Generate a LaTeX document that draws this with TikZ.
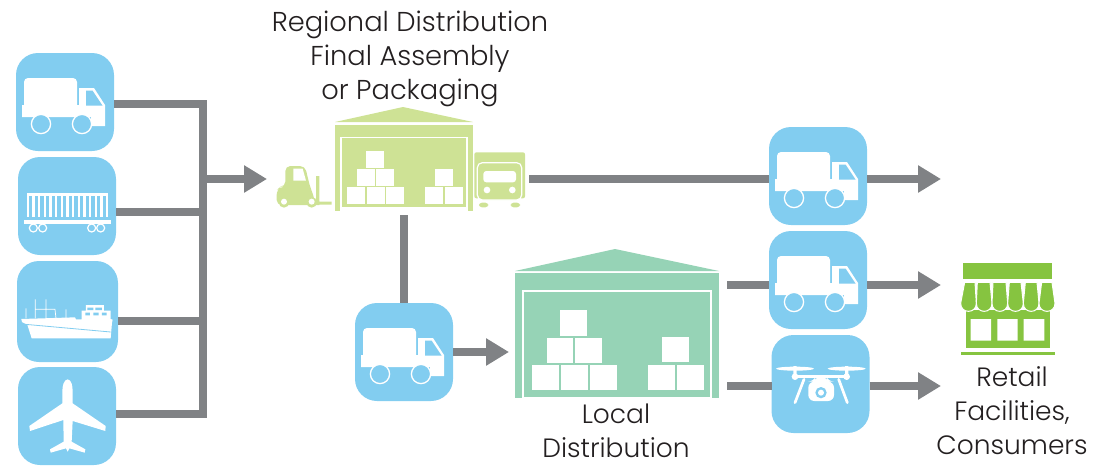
\documentclass[tikz,border=0pt]{standalone}
\usepackage{fontspec}
\setmainfont{Poppins Light}
\usetikzlibrary{arrows.meta}
\definecolor{tileblue}{HTML}{82CDF0}
\definecolor{pipegray}{HTML}{808285}
\definecolor{leaf}{HTML}{CEE295}
\definecolor{mint}{HTML}{96D3B6}
\definecolor{shop}{HTML}{86C440}
\definecolor{ink}{HTML}{231F20}
\tikzset{
  tile/.style={fill=tileblue,rounded corners=22pt,minimum width=98pt,minimum height=98pt,inner sep=0pt,outer sep=0pt},
  hall/.style={inner sep=0pt,outer sep=0pt,rectangle},
  pipe/.style={draw=pipegray,line width=8pt},
  flow/.style={pipe,-{Triangle[length=23pt,width=26pt]}},
  label/.style={text=ink,align=center,font=\fontsize{26.5}{34}\selectfont,inner sep=0pt},
  zoomed/.style={x=0.33333pt,y=-0.33333pt},
  truck/.pic={
    \fill[white,rounded corners=4pt] (8,58) -- (8,25) -- (61,25) -- (61,58) -- cycle;
    \fill[white] (6,52) -- (63,52) -- (63,35) -- (78,35) -- (89,52) -- (89,73) -- (75,73) -- (75,64) -- (6,64) -- cycle;
    \fill[tileblue] (70,37.5) -- (76.5,37.5) -- (86.5,52.5) -- (70,52.5) -- cycle;
    \draw[white,fill=tileblue,line width=1.3pt] (25,71) circle[radius=9.6] (66,71) circle[radius=9.6];
  },
  crate/.style={fill=white},
}
\begin{document}
\begin{tikzpicture}[x=1pt,y=-1pt]
\useasboundingbox (0,0) rectangle (1106,466);
% ---- named nodes
\node[tile] (t1) at (65,102) {};
\node[tile] (t2) at (67,206) {};
\node[tile,minimum width=101pt,minimum height=101pt] (t3) at (67.5,311.5) {};
\node[tile] (t4) at (67,416) {};
\node[tile] (t5) at (404,352) {};
\node[tile] (t6) at (818,176) {};
\node[tile] (t7) at (818,280) {};
\node[tile] (t8) at (820.5,384) {};
\node[hall,fill=leaf,minimum width=138pt,minimum height=86pt] (w1) at (404,168) {};
\node[hall,fill=mint,minimum width=204pt,minimum height=125pt] (w2) at (617,335.5) {};
\coordinate (busTop) at (202.5,104);
\coordinate (busB) at (202.5,212);
\coordinate (busC) at (202.5,321);
\coordinate (busBot) at (202.5,414);
\coordinate (busOut) at (202.5,179);
\coordinate (fork) at (267,179);
\coordinate (v1) at (941,179);
\coordinate (v2) at (941,285);
\coordinate (v3) at (941,386);
\coordinate (h1) at (529,179);
\coordinate (h2) at (727,285);
\coordinate (h3) at (727,386);
\coordinate (w2in) at (509,352);
\coordinate (w1out) at (404,215);
% ---- connectors
\draw[pipe,line join=miter] (t1.east |- busTop) -- (busTop) -- (busBot) -- (t4.east |- busBot);
\draw[pipe] (t2.east |- busB) -- (busB);
\draw[pipe] (t3.east |- busC) -- (busC);
\draw[flow] (busOut) -- (fork);
\draw[pipe] (h1) -- (t6.west |- h1);
\draw[flow] (t6.east |- v1) -- (v1);
\draw[pipe] (h2) -- (t7.west |- h2);
\draw[flow] (t7.east |- v2) -- (v2);
\draw[pipe] (h3) -- (t8.west |- h3);
\draw[flow] (t8.east |- v3) -- (v3);
\draw[pipe] (w1out) -- (t5.north);
\draw[flow] (t5.east) -- (w2in);
% ---- trucks
\pic at (t1.north west) {truck};
\pic at (t5.north west) {truck};
\pic at (t6.north west) {truck};
\pic at (t7.north west) {truck};
% ---- train
\begin{scope}[shift={(0,40)},zoomed]
  \fill[white] (80,460) rectangle (325,467);
  \foreach \s in {80,97,...,318} \fill[white] (\s,460) rectangle ++(7,70);
  \fill[white] (72,541) rectangle (333,552);
  \foreach \s in {100,128,275,302} \draw[white,fill=tileblue,line width=1.2pt] (\s,564) circle[radius=12];
\end{scope}
% ---- ship
\begin{scope}[shift={(0,250)},zoomed]
  \draw[white,line width=0.7pt] (78,175) -- (78,205) (106,148) -- (106,205) (138,148) -- (138,205) (106,178) -- (165,178) -- (168,205) (198,178) -- (198,205);
  \fill[white] (64,207) -- (225,202) -- (228,208) -- (245,208) -- (245,182) -- (258,182) -- (258,165) -- (312,165) -- (312,182) -- (332,182) -- (332,207) -- (338,209) -- (336,218) -- (332,265) -- (95,265) -- (82,224) -- (66,216) -- cycle;
  \draw[tileblue,line width=0.8pt] (76,223) -- (332,246);
  \fill[tileblue] (262,173) rectangle (280,180) (286,173) rectangle (306,180) (256,188) rectangle (270,196) (280,188) rectangle (296,196) (306,188) rectangle (320,196);
\end{scope}
% ---- plane
\begin{scope}[shift={(0,250)},zoomed]
  \fill[white,line join=round] (203,388) .. controls (192,390) and (187,405) .. (187,425) -- (187,460) -- (88,528) -- (90,543) -- (190,510) -- (191,575) -- (150,598) -- (152,608) -- (198,595) -- (203,605) -- (208,595) -- (254,608) -- (256,598) -- (215,575) -- (218,513) -- (316,543) -- (317,528) -- (218,460) -- (218,425) .. controls (218,405) and (214,390) .. (203,388) -- cycle;
\end{scope}
% ---- drone
\begin{scope}[shift={(740,120)},zoomed]
  \fill[white] (165,746) ellipse[x radius=57,y radius=6] (320,746) ellipse[x radius=57,y radius=6];
  \fill[white] (160,738) rectangle (170,770) (315,738) rectangle (325,770);
  \fill[white] (165,770) circle[radius=10] (320,770) circle[radius=10];
  \draw[white,line width=2.4pt] (165,770) -- (320,770);
  \draw[white,line width=2.7pt,line cap=round] (192,778) -- (165,848) (296,778) -- (322,848);
  \fill[white,rounded corners=6pt] (205,785) -- (222,785) -- (228,768) -- (258,768) -- (264,785) -- (282,785) -- (282,843) -- (205,843) -- cycle;
  \fill[tileblue] (243,818) circle[radius=17];
  \fill[white] (243,818) circle[radius=9];
\end{scope}
% ---- warehouse 1
\fill[leaf] (w1.north west |- 0,122) -- (403,107) -- (w1.north east |- 0,122) -- cycle;
\draw[white,line width=1.5pt] (341,211) -- (341,137.5) -- (467,137.5) -- (467,211);
\fill[white] (341,206.5) rectangle (467,211.5);
\foreach \a/\b/\c/\d in {347/187/365/204,367/187/385/204,386/187/404/204,357/169/375/186,376/169/394/186,366/151/384/168,425/187/443/204,445/187/463/204,435/169/453/186}
  \fill[crate] (\a,\b) rectangle (\c,\d);
% ---- forklift
\begin{scope}[shift={(260,90)},zoomed]
  \fill[leaf,rounded corners=5pt] (50,345) -- (50,300) -- (62,290) -- (76,290) -- (76,228) -- (135,228) -- (150,290) -- (162,320) -- (165,345) -- cycle;
  \fill[white] (100,236) -- (128,236) -- (138,272) -- (100,272) -- cycle;
  \fill[leaf] (168,258) rectangle (178,345) (168,335) rectangle (215,344);
  \fill[leaf] (72,337) circle[radius=16] (155,337) circle[radius=16];
  \fill[white] (72,335) circle[radius=9] (155,335) circle[radius=9];
\end{scope}
% ---- front-view van
\begin{scope}[shift={(260,90)},zoomed]
  \fill[leaf,rounded corners=2pt] (643,187) rectangle (795,325);
  \draw[white,fill=leaf,line width=1.2pt,rounded corners=5pt] (652,330) -- (652,218) -- (785,218) -- (785,330) -- cycle;
  \fill[white,rounded corners=3pt] (670,243) rectangle (768,277);
  \fill[white] (681,300) circle[radius=10] (757,300) circle[radius=10];
  \fill[leaf,rounded corners=3pt] (657,338) rectangle (685,352) (752,338) rectangle (780,352);
\end{scope}
% ---- warehouse 2
\fill[mint] (w2.north west |- 0,271) -- (615,249) -- (w2.north east |- 0,271) -- cycle;
\draw[white,line width=1.7pt] (523,398.5) -- (523,291) -- (711,291) -- (711,398.5);
\fill[white] (523,396.5) rectangle (711,398.5);
\foreach \a/\b/\c/\d in {532/365/559/390,561/365/588/390,590/365/617/390,547/338/573/363,575/338/602/363,560/310/587/336,648/365/675/390,677/365/704/390,662/337/689/362}
  \fill[crate] (\a,\b) rectangle (\c,\d);
% ---- store
\begin{scope}[shift={(930,250)},zoomed]
  \fill[shop] (98,38) rectangle (367,88);
  \fill[shop] (107,180) rectangle (360,295);
  \fill[white] (122,207) rectangle (183,272) (202,207) rectangle (263,272) (281,207) rectangle (343,272);
  \fill[shop] (94,306) rectangle (376,316);
  \foreach \a/\b/\c/\d in {104/135/92/139,142/180/139/186,189/228/186/233,238/273/233/280,286/321/280/327,335/366/327/375}
    \fill[shop,draw=white,line width=1pt] (\a,97) -- (\b,97) -- (\d,160) .. controls (\d,192) and (\c,192) .. (\c,160) -- cycle;
\end{scope}
% ---- text
\node[label,font=\fontsize{27.3}{34}\selectfont,anchor=base] (title) at (410,99) {Regional Distribution\\Final Assembly\\or Packaging};
\node[label,anchor=base] (local) at (616,457) {Local\\Distribution};
\node[label,anchor=base] (retail) at (1012,454) {Retail\\Facilities,\\Consumers};
\end{tikzpicture}
\end{document}
